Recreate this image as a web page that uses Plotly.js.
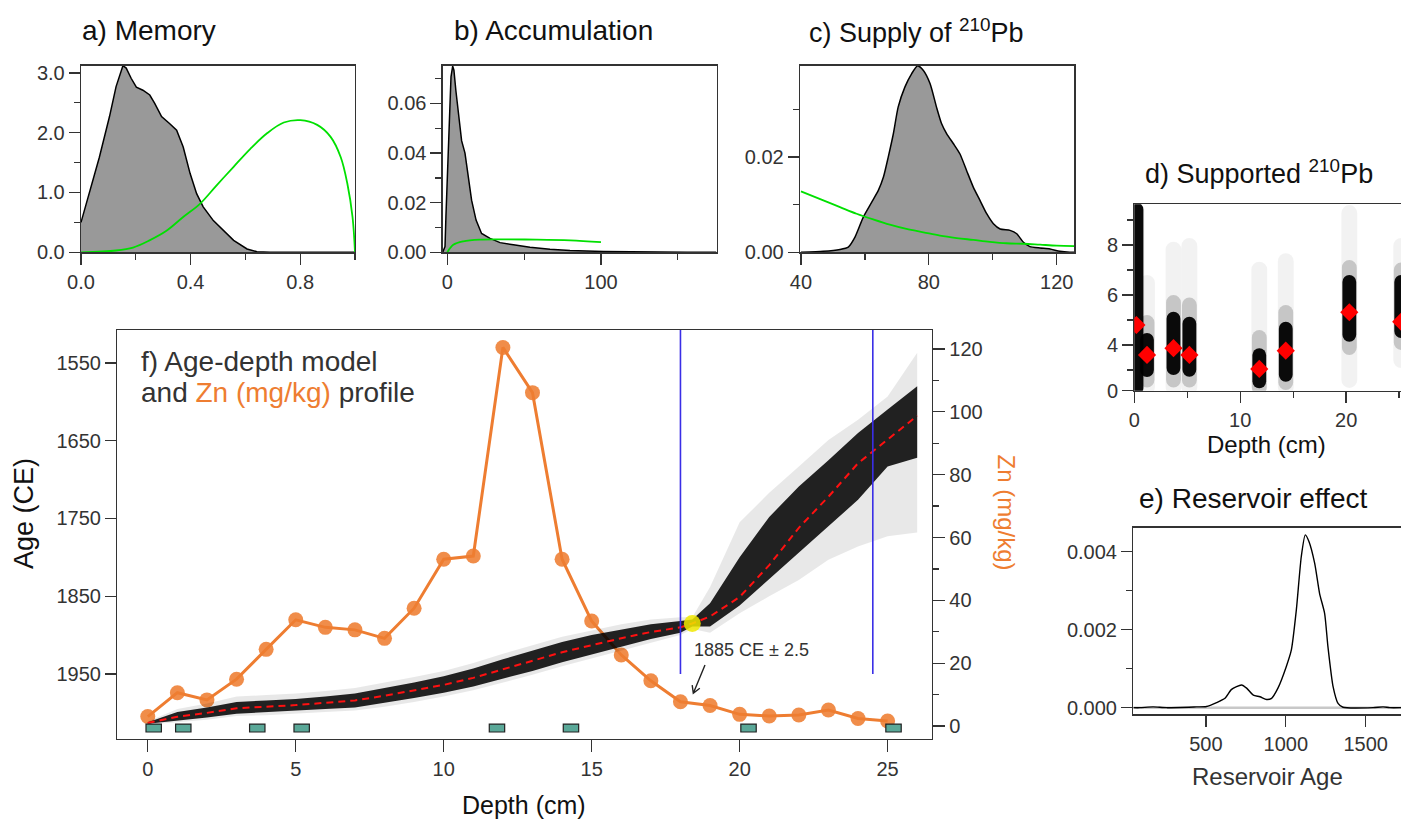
<!DOCTYPE html>
<html>
<head>
<meta charset="utf-8">
<script src="https://cdn.plot.ly/plotly-3.0.1.min.js"></script>
<style>html,body{margin:0;padding:0;background:#fff;}#chart{width:1401px;height:827px;}</style>
</head>
<body>
<div id="chart"></div>
<script>
// ---------- a) Memory ----------
const memX = [0,0.067,0.104,0.128,0.153,0.165,0.183,0.202,0.226,0.251,0.269,0.294,0.324,0.349,0.373,0.398,0.422,0.446,0.483,0.52,0.557,0.606,0.642,0.69,1.0];
const memY = [0.5,1.59,2.27,2.77,3.12,3.08,2.91,2.76,2.71,2.63,2.49,2.27,2.15,2.04,1.76,1.32,0.98,0.76,0.53,0.36,0.20,0.056,0.01,0,0];
const memPriorX = [0,0.128,0.19,0.25,0.312,0.373,0.434,0.495,0.557,0.618,0.679,0.74,0.801,0.862,0.911,0.948,0.972,0.991,1.0];
const memPriorY = [0,0.03,0.08,0.2,0.36,0.59,0.81,1.12,1.43,1.73,1.99,2.17,2.21,2.13,1.93,1.59,1.15,0.59,0];

// ---------- b) Accumulation ----------
const accX = [-3,-1.5,-0.9,0.9,2.4,3.5,4.3,5.6,7.2,9.3,11.5,13.7,15.8,18.7,22.3,27.8,34.3,43,53.8,66.8,79.8,101.5,123,145,156,175];
const accY = [0,0.0023,0.0144,0.048,0.0707,0.075,0.0734,0.065,0.056,0.045,0.04,0.0305,0.021,0.013,0.0076,0.0056,0.0039,0.003,0.002,0.0012,0.0007,0.0003,0.0001,0.0001,0,0];
const accPriorX = [0,3.9,10.4,21.3,36,58,80,100];
const accPriorY = [0,0.0030,0.0044,0.0051,0.0052,0.0051,0.0048,0.0041];

// ---------- c) Supply of 210Pb ----------
const supplyX = [40,47,52.2,54.8,56.9,59.5,62.1,64.2,65.8,67.3,68.9,70.4,72.5,74.6,76.5,78.3,80.4,82.4,84,85.6,87.7,89.7,91.8,93.9,96,98.1,100.2,102.3,105.4,107.5,109.6,111.6,114.8,117.9,121,124.1,125.5];
const supplyY = [0,0.0002,0.0006,0.0011,0.0032,0.0074,0.0105,0.013,0.0158,0.02,0.0249,0.0305,0.0347,0.0375,0.0392,0.0382,0.0354,0.0305,0.027,0.0249,0.0228,0.0207,0.0172,0.0137,0.0109,0.0081,0.006,0.0049,0.0046,0.0039,0.0021,0.0012,0.0009,0.0007,0.0002,0,0];
const supplyPriorX = [40,47,52.2,57.4,62.6,67.8,73,78.3,83.5,88.7,93.9,99.1,104.3,109.6,114.8,120,125.5];
const supplyPriorY = [0.0128,0.0109,0.0095,0.0081,0.0069,0.0058,0.0049,0.0042,0.0035,0.003,0.0026,0.0022,0.0019,0.0018,0.0016,0.0014,0.0013];

// ---------- d) Supported 210Pb (dated sample depths, shared with f) ----------
const supDepth   = [0.2, 1.2, 3.7, 5.2, 11.8, 14.3, 20.3, 25.2];
const supMean    = [4.8, 3.6, 3.87, 3.6, 3.04, 3.77, 5.31, 4.93];
const supDarkLo  = [2.0, 2.72, 2.8, 2.73, 2.27, 2.53, 4.13, 4.28];
const supDarkHi  = [9.7, 4.48, 5.33, 5.13, 3.87, 4.93, 6.8, 6.8];
const supMidLo   = [2.0, 2.3, 2.3, 2.3, 2.0, 2.2, 3.6, 3.8];
const supMidHi   = [9.7, 5.2, 6.0, 5.9, 4.6, 5.6, 7.4, 7.3];
const supFaintLo = [2.0, 2.0, 2.0, 2.0, 2.0, 2.0, 2.28, 3.08];
const supFaintHi = [9.7, 6.8, 8.13, 8.28, 7.33, 7.67, 9.6, 8.28];
const supTickVals = [2.17, 4, 6, 8];
const supTickText = ['0', '4', '6', '8'];

// ---------- e) Reservoir effect ----------
const resX = [46,87,170,254,441,504,567,619,661,723,755,797,838,880,911,951,1003,1035,1066,1097,1122,1145,1181,1212,1243,1264,1296,1327,1358,1546,1609,1651,1721];
const resY = [0,0,0.00002,0,0.00002,0.00003,0.00013,0.00024,0.00047,0.00058,0.0005,0.00032,0.00028,0.00021,0.00024,0.0005,0.00105,0.00148,0.0025,0.00387,0.00443,0.00426,0.0037,0.00292,0.00242,0.00156,0.00054,0.00011,0.00001,0,0.00002,0,0];
const resPriorX = [46, 1721];
const resPriorY = [0, 0];

// ---------- f) Age-depth model and Zn ----------
const znDepth = [0,1,2,3,4,5,6,7,8,9,10,11,12,13,14,15,16,17,18,19,20,21,22,23,24,25];
const znValue = [3,10.6,8.3,14.9,24.4,33.8,31.4,30.6,27.9,37.5,53.1,54.1,120.5,106.1,53.1,33.4,22.6,14.4,7.7,6.5,3.7,3.2,3.5,5.1,2.4,1.6];

const ageDepth   = [0,1,2,3,4,5,6,7,8,9,10,11,12,13,14,15,16,17,18,18.4,19,20,21,22,23,24,25,26];
const ageMean    = [2013,2005,2000,1994,1992,1990,1987,1984,1978,1971,1964,1955,1944,1933,1922,1913,1904,1896,1890,1885,1876,1851,1810,1762,1722,1679,1649,1618];
const ageDarkOld = [2012,1999,1993,1986,1984,1982,1979,1975,1968,1961,1953,1943,1931,1920,1909,1900,1893,1886,1882,1880,1859,1800,1748,1709,1675,1640,1610,1580];
const ageDarkYng = [2014,2010,2006,2001,1999,1997,1995,1993,1987,1981,1974,1966,1956,1946,1935,1925,1915,1905,1897,1889,1889,1862,1829,1794,1760,1726,1683,1672];
const ageFaintOld= [2011,1995,1988,1979,1977,1975,1972,1968,1961,1954,1946,1936,1924,1913,1902,1894,1886,1880,1877,1877,1838,1755,1717,1683,1649,1623,1593,1537];
const ageFaintYng= [2015,2012,2009,2004,2003,2001,1999,1997,1992,1986,1979,1971,1961,1951,1940,1930,1920,1910,1900,1892,1897,1872,1850,1829,1803,1786,1773,1768];
const markerDepth = [18.4];
const markerAge = [1885];
const boundaryDepths = [18, 24.5];

// ---------- layout helpers ----------
const W = 1401, H = 827;
const px = v => v / W;
const py = v => 1 - v / H;
const FONT = 'Liberation Sans, Arial, Helvetica, sans-serif';
const TICK = '#333';
const GREEN = '#00e000';
const ORANGE = '#ee7d31';

function poly(xs, lo, hi) {
  return { x: xs.concat(xs.slice().reverse()), y: lo.concat(hi.slice().reverse()) };
}
const faintPoly = poly(ageDepth, ageFaintOld, ageFaintYng);
const darkPoly = poly(ageDepth, ageDarkOld, ageDarkYng);
const span = (hi, lo) => hi.map((v, i) => v - lo[i]);

const traces = [
  // a
  {x: memX, y: memY, xaxis: 'x', yaxis: 'y', mode: 'lines', fill: 'tozeroy', fillcolor: '#999999', line: {color: '#000', width: 1.5}},
  {x: memPriorX, y: memPriorY, xaxis: 'x', yaxis: 'y', mode: 'lines', line: {color: GREEN, width: 1.8, shape: 'spline'}},
  // b
  {x: accX, y: accY, xaxis: 'x2', yaxis: 'y2', mode: 'lines', fill: 'tozeroy', fillcolor: '#999999', line: {color: '#000', width: 1.5}},
  {x: accPriorX, y: accPriorY, xaxis: 'x2', yaxis: 'y2', mode: 'lines', line: {color: GREEN, width: 1.8, shape: 'spline'}},
  // c
  {x: supplyX, y: supplyY, xaxis: 'x3', yaxis: 'y3', mode: 'lines', fill: 'tozeroy', fillcolor: '#999999', line: {color: '#000', width: 1.5, shape: 'spline', smoothing: 0.6}},
  {x: supplyPriorX, y: supplyPriorY, xaxis: 'x3', yaxis: 'y3', mode: 'lines', line: {color: GREEN, width: 1.8, shape: 'spline'}},
  // d
  {type: 'bar', x: supDepth, base: supFaintLo, y: span(supFaintHi, supFaintLo), width: 1.5, xaxis: 'x4', yaxis: 'y4', marker: {color: 'rgba(0,0,0,0.05)', cornerradius: 8}},
  {type: 'bar', x: supDepth, base: supMidLo, y: span(supMidHi, supMidLo), width: 1.4, xaxis: 'x4', yaxis: 'y4', marker: {color: 'rgba(0,0,0,0.18)', cornerradius: 8}},
  {type: 'bar', x: supDepth, base: supDarkLo, y: span(supDarkHi, supDarkLo), width: 1.3, xaxis: 'x4', yaxis: 'y4', marker: {color: 'rgba(0,0,0,0.95)', cornerradius: 7}},
  {x: supDepth, y: supMean, xaxis: 'x4', yaxis: 'y4', mode: 'markers', marker: {symbol: 'diamond', size: 14, color: '#ff0000'}},
  // e
  {x: resPriorX, y: resPriorY, xaxis: 'x5', yaxis: 'y5', mode: 'lines', line: {color: '#c8c8c8', width: 2.5}},
  {x: resX, y: resY, xaxis: 'x5', yaxis: 'y5', mode: 'lines', line: {color: '#000', width: 1.4, shape: 'spline', smoothing: 0.6}},
  // f : Zn (base axis y6)
  {x: znDepth, y: znValue, xaxis: 'x6', yaxis: 'y6', mode: 'lines+markers', line: {color: ORANGE, width: 3}, marker: {size: 15, color: 'rgba(238,125,49,0.88)'}},
  // f : age model (overlay axis y7)
  {x: faintPoly.x, y: faintPoly.y, xaxis: 'x6', yaxis: 'y7', mode: 'lines', fill: 'toself', fillcolor: 'rgba(0,0,0,0.09)', line: {width: 0}},
  {x: darkPoly.x, y: darkPoly.y, xaxis: 'x6', yaxis: 'y7', mode: 'lines', fill: 'toself', fillcolor: 'rgba(0,0,0,0.86)', line: {width: 0}},
  {x: ageDepth, y: ageMean, xaxis: 'x6', yaxis: 'y7', mode: 'lines', line: {color: '#ff1010', width: 2, dash: '7px,5px'}},
  {x: markerDepth, y: markerAge, xaxis: 'x6', yaxis: 'y7', mode: 'markers', marker: {size: 17, color: 'rgba(240,232,0,0.85)'}}
];

function ax(domain, range, extra) {
  return Object.assign({
    domain: domain, range: range, showgrid: false, zeroline: false,
    showline: true, mirror: true, linecolor: '#333', linewidth: 1.3,
    ticks: 'outside', ticklen: 11, tickwidth: 1.3, tickcolor: TICK,
    tickfont: {family: FONT, size: 20, color: TICK}, fixedrange: true
  }, extra || {});
}
function minor(dt, t0) {
  const m = {ticks: 'outside', ticklen: 6, tickwidth: 1.3, tickcolor: TICK, dtick: dt};
  if (t0 !== undefined) m.tick0 = t0;
  return m;
}

const yTop = [py(252.3), py(65.7)];
const layout = {
  width: W, height: H,
  margin: {l: 0, r: 0, t: 0, b: 0, pad: 0},
  paper_bgcolor: '#fff', plot_bgcolor: 'rgba(0,0,0,0)',
  showlegend: false, hovermode: false, barmode: 'overlay',
  font: {family: FONT, color: '#222'},
  // a
  xaxis: ax([px(81), px(355)], [0, 1.0], {anchor: 'y', tick0: 0, dtick: 0.4, tickformat: '.1f', minor: minor(0.2, 0)}),
  yaxis: ax(yTop, [0, 3.12], {anchor: 'x', tick0: 0, dtick: 1, tickformat: '.1f', minor: minor(0.5, 0)}),
  // b
  xaxis2: ax([px(442.7), px(716.7)], [-3, 175.3], {anchor: 'y2', tick0: 0, dtick: 100, minor: minor(50, 0)}),
  yaxis2: ax(yTop, [0, 0.0752], {anchor: 'x2', tick0: 0, dtick: 0.02, tickformat: '.2f', minor: minor(0.01, 0)}),
  // c
  xaxis3: ax([px(800), px(1074.3)], [39.7, 125.5], {anchor: 'y3', tick0: 40, dtick: 40, minor: minor(20, 40)}),
  yaxis3: ax(yTop, [0, 0.0392], {anchor: 'x3', tick0: 0, dtick: 0.02, tickformat: '.2f', minor: minor(0.01, 0)}),
  // d
  xaxis4: ax([px(1134.3), 1], [0, 25.18], {anchor: 'y4', tick0: 0, dtick: 10, minor: minor(5, 0)}),
  yaxis4: ax([py(390.7), py(204.3)], [2.17, 9.63], {anchor: 'x4', mirror: false, tickmode: 'array', tickvals: supTickVals, ticktext: supTickText,
           minor: {ticks: 'outside', ticklen: 6, tickwidth: 1.3, tickcolor: TICK, tickmode: 'array', tickvals: [3, 5, 7, 9]}}),
  // e
  xaxis5: ax([px(1133.3), 1], [46, 1721], {anchor: 'y5', tick0: 0, dtick: 500}),
  yaxis5: ax([py(714.3), py(527.7)], [-0.00017, 0.004615], {anchor: 'x5', mirror: false, tick0: 0, dtick: 0.002, tickformat: '.3f', minor: minor(0.001, 0)}),
  // f
  xaxis6: ax([px(117), px(932)], [-1.04, 26.5], {anchor: 'y6', tick0: 0, dtick: 5, ticklen: 12}),
  yaxis6: ax([py(739), py(330)], [-4.14, 126.05], {anchor: 'x6', side: 'right', tick0: 0, dtick: 20, ticklen: 12, minor: minor(10, 0)}),
  yaxis7: ax([py(739), py(330)], [2033.6, 1507.6], {anchor: 'x6', overlaying: 'y6', side: 'left', showline: false, mirror: false, tick0: 1550, dtick: 100, ticklen: 11}),
  shapes: [],
  annotations: []
};

// dated sample markers (teal rectangles) and boundary lines in panel f
supDepth.forEach(d => layout.shapes.push({type: 'rect', xref: 'x6', yref: 'y7', x0: d - 0.26, x1: d + 0.26, y0: 2014.4, y1: 2024.6,
  fillcolor: '#5aa898', line: {color: '#222', width: 1.2}, layer: 'above'}));
boundaryDepths.forEach(d => layout.shapes.push({type: 'line', xref: 'x6', yref: 'y7', x0: d, x1: d, y0: 1950, y1: 1507.6,
  line: {color: '#3a2ee6', width: 1.6}, layer: 'above'}));

// hand-drawn style arrow pointing at the 1885 CE marker label (paper coordinates)
const arrowTail = [705, 665], arrowTip = [693.3, 693.3];
const P = p => px(p[0]) + ',' + py(p[1]);
layout.shapes.push({type: 'path', xref: 'paper', yref: 'paper',
  path: 'M' + P(arrowTail) + 'L' + P(arrowTip) + 'M' + P([699.8, 688.2]) + 'L' + P(arrowTip) + 'L' + P([692.2, 685.2]),
  line: {color: '#222', width: 1.4}, layer: 'above'});

function txt(text, x, y, size, opts) {
  return Object.assign({text: text, xref: 'paper', yref: 'paper', x: px(x), y: py(y), xanchor: 'left', yanchor: 'middle',
    showarrow: false, font: {family: FONT, size: size, color: '#111'}}, opts || {});
}
layout.annotations.push(
  txt('a) Memory', 80, 31, 28),
  txt('b) Accumulation', 451.7, 31, 28),
  txt('c) Supply of <sup>210</sup>Pb', 806.7, 31, 27),
  txt('d) Supported <sup>210</sup>Pb', 1143.3, 172, 27),
  txt('e) Reservoir effect', 1136.7, 498, 28),
  txt('f) Age-depth model', 139.3, 361, 28, {font: {family: FONT, size: 28, color: '#333'}}),
  txt('and <span style="color:' + ORANGE + '">Zn (mg/kg)</span> profile', 139.3, 393, 28, {font: {family: FONT, size: 28, color: '#333'}}),
  txt('Age (CE)', 24, 514, 27, {xanchor: 'center', textangle: -90}),
  txt('Zn (mg/kg)', 1006, 512.5, 24, {xanchor: 'center', textangle: 90, font: {family: FONT, size: 24, color: ORANGE}}),
  txt('Depth (cm)', 524, 805, 25, {xanchor: 'center'}),
  txt('Depth (cm)', 1266, 445, 24, {xanchor: 'center'}),
  txt('Reservoir Age', 1267, 776, 24, {xanchor: 'center', font: {family: FONT, size: 24, color: '#333'}}),
  txt('1885 CE \u00b1 2.5', 751, 650, 18, {xanchor: 'center', font: {family: FONT, size: 18, color: '#333'}})
);

Plotly.newPlot('chart', traces, layout, {staticPlot: true, displayModeBar: false});
</script>
</body>
</html>
